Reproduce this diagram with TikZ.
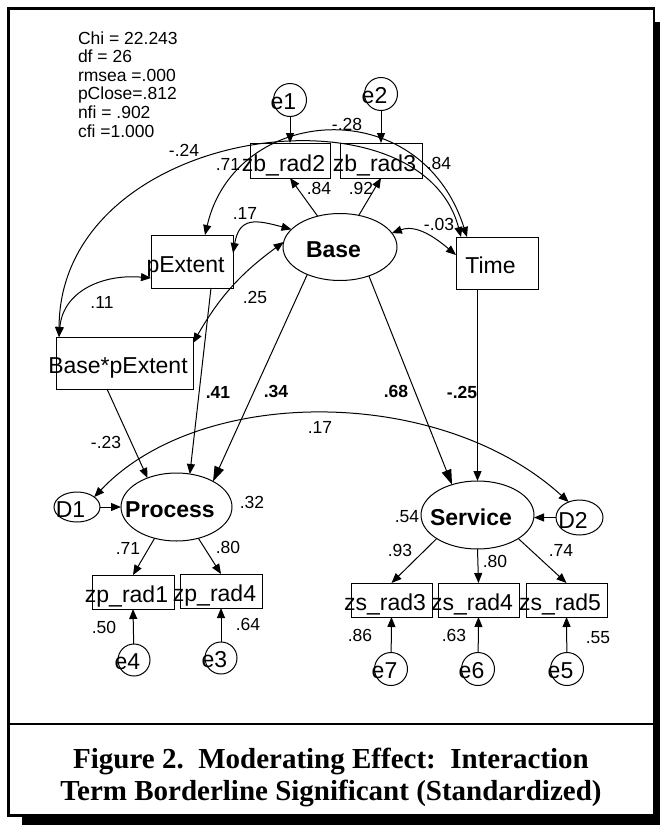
\documentclass[tikz,border=0pt]{standalone}
\usepackage{fontspec}
\setmainfont{Liberation Sans}
\newfontfamily\capfont{Liberation Serif}
\usetikzlibrary{arrows.meta,shapes.geometric}
\newcommand\tx[2][10.75]{\raisebox{-#1pt}[0pt][0pt]{\makebox[0pt]{#2\hspace{13pt}}}}
\tikzset{
  every node/.style={inner sep=0pt, outer sep=0pt},
  obs/.style={draw, rectangle, line width=1pt, font=\fontsize{23}{23}\selectfont},
  lat/.style={draw, ellipse, line width=1pt, font=\fontsize{23}{23}\selectfont\bfseries},
  dis/.style={draw, ellipse, line width=1pt, font=\fontsize{23}{23}\selectfont},
  err/.style={draw, circle, line width=1pt, minimum size=33pt, font=\fontsize{23}{23}\selectfont},
  lab/.style={font=\fontsize{17.5}{18}\selectfont, text height=12.5pt, text depth=0pt},
  blab/.style={font=\fontsize{17.5}{18}\selectfont\bfseries, text height=12.5pt, text depth=0pt},
  stat/.style={anchor=base west, font=\fontsize{17.5}{18}\selectfont},
  capt/.style={anchor=base, font=\capfont\bfseries\fontsize{29}{29}\selectfont},
  reg/.style={-{Triangle[length=10pt,width=8pt]}, line width=1pt},
  big/.style={-{Triangle[length=15pt,width=10pt]}, line width=1pt},
  cov/.style={{Triangle[length=10pt,width=8pt]}-{Triangle[length=10pt,width=8pt]}, line width=1pt},
}
\begin{document}
\begin{tikzpicture}[x=1pt,y=-1pt]
\fill[white] (0,0) rectangle (660,825);
\useasboundingbox (0,0) rectangle (660,825);
% frame with shadow
\fill[black] (22,22) rectangle (660,825);
\draw[line width=2.5pt, fill=white] (8.5,8.5) rectangle (654,815.5);
\draw[line width=2.5pt] (8.5,724) -- (654,724);
% fit statistics
\node[stat] (s1) at (78,44) {Chi = 22.243};
\node[stat] (s2) at (78,62.6) {df = 26};
\node[stat] (s3) at (78,81.2) {rmsea =.000};
\node[stat] (s4) at (78,99.8) {pClose=.812};
\node[stat] (s5) at (78,118.4) {nfi = .902};
\node[stat] (s6) at (78,137) {cfi =1.000};
% nodes
\node[err] (e1) at (290,100) {\tx[9]{e1}};
\node[err] (e2) at (381,94) {\tx[9]{e2}};
\node[obs, minimum width=80pt, minimum height=35pt] (zb2) at (290,160.5) {\tx{zb\_rad2}};
\node[obs, minimum width=82pt, minimum height=35pt] (zb3) at (381,160.5) {\tx{zb\_rad3}};
\node[lat, minimum width=114pt, minimum height=67pt] (base) at (340,247) {\tx[10.25]{Base}};
\node[obs, minimum width=82pt, minimum height=53pt] (pext) at (192,261.5) {\tx{pExtent}};
\node[obs, minimum width=82pt, minimum height=52pt] (time) at (497,263) {\tx{Time}};
\node[obs, minimum width=137pt, minimum height=52pt] (bp) at (124.5,363) {\tx{Base*pExtent}};
\node[lat, minimum width=111pt, minimum height=68pt] (proc) at (176.5,507) {\tx[10.25]{Process}};
\node[lat, minimum width=113pt, minimum height=68pt] (serv) at (477.5,515) {\tx[10.25]{Service}};
\node[dis, minimum width=46pt, minimum height=30pt] (d1) at (77,507) {\tx{D1}};
\node[dis, minimum width=47pt, minimum height=35pt] (d2) at (579.5,517.5) {\tx{D2}};
\node[obs, minimum width=82pt, minimum height=34pt] (zp1) at (133,592) {\tx{zp\_rad1}};
\node[obs, minimum width=82pt, minimum height=34pt] (zp4) at (221,591) {\tx{zp\_rad4}};
\node[err, minimum size=32pt] (e4) at (134,660) {\tx[9.5]{e4}};
\node[err, minimum size=32pt] (e3) at (221,658) {\tx[9.5]{e3}};
\node[obs, minimum width=81pt, minimum height=34pt] (zs3) at (391.5,600) {\tx{zs\_rad3}};
\node[obs, minimum width=81pt, minimum height=34pt] (zs4) at (478.5,600) {\tx{zs\_rad4}};
\node[obs, minimum width=81pt, minimum height=34pt] (zs5) at (566.5,600) {\tx{zs\_rad5}};
\node[err] (e7) at (391,669) {\tx[9.5]{e7}};
\node[err] (e6) at (478,669) {\tx[9.5]{e6}};
\node[err] (e5) at (567,669) {\tx[9.5]{e5}};
% regression paths
\draw[reg] (e1) -- (zb2.north);
\draw[reg] (e2) -- (zb3.north);
\draw[reg] (base) -- (zb2.south);
\draw[reg] (base) -- (zb3.south);
\draw[reg] ([xshift=19pt]pext.south) -- (proc.68);
\draw[big] (base.-140) -- (proc.35);
\draw[reg] ([xshift=-17.5pt]bp.south) -- (proc.135);
\draw[big] (base.-45) -- (serv.130);
\draw[reg] (time.south -| serv.north) -- (serv.north);
\draw[reg] (d1.east) -- (proc.west);
\draw[reg] (d2.west) -- (d2.west -| serv.east);
\draw[reg] (proc.-125) -- (zp1.north);
\draw[reg] (proc.-55) -- (zp4.north);
\draw[reg] (serv.-150) -- (zs3.north);
\draw[reg] (serv.south) -- (zs4.north);
\draw[reg] (serv.-30) -- (zs5.north);
\draw[reg] (e4) -- (zp1.south);
\draw[reg] (e3) -- (zp4.south);
\draw[reg] (e7) -- (zs3.south);
\draw[reg] (e6) -- (zs4.south);
\draw[reg] (e5) -- (zs5.south);
% covariances
\draw[cov] ([yshift=8.5pt]pext.east) to[out=80,in=165,looseness=1.5] (base.160);
\draw[cov] ([yshift=20pt]bp.east) to[bend left=12] (base.175);
\draw[cov] ([yshift=-16.5pt]pext.west) to[out=175,in=85,looseness=1.1] ([xshift=3pt]bp.north west);
\draw[cov] ([xshift=3pt]bp.north west) .. controls (60,125) and (420,80) .. ([xshift=-36pt]time.north);
\draw[cov] ([xshift=13pt]pext.north) .. controls (235,105) and (420,90) .. ([xshift=-30pt]time.north);
\draw[cov] (base.15) to[out=20,in=140] ([yshift=8pt]time.west);
\draw[cov] (d1.30) .. controls (200,385) and (440,385) .. (d2.125);
% labels
\node[lab] (l1) at (228,164) {.71};
\node[lab] (l2) at (439,163) {.84};
\node[lab] (l3) at (319,188) {.84};
\node[lab] (l4) at (361,188) {.92};
\node[lab] (l5) at (184,150) {-.24};
\node[lab] (l6) at (347,124) {-.28};
\node[lab] (l7) at (245,213) {.17};
\node[lab] (l8) at (255,297) {.25};
\node[lab] (l9) at (102,302) {.11};
\node[lab] (l10) at (439,224) {-.03};
\node[blab] (l11) at (218,392) {.41};
\node[blab] (l12) at (276,391) {.34};
\node[blab] (l13) at (396,391) {.68};
\node[blab] (l14) at (462,392) {-.25};
\node[lab] (l15) at (106,442) {-.23};
\node[lab] (l16) at (320,427) {.17};
\node[lab] (l17) at (252,502) {.32};
\node[lab] (l18) at (128,548) {.71};
\node[lab] (l19) at (228,547) {.80};
\node[lab] (l20) at (104,627) {.50};
\node[lab] (l21) at (248,624) {.64};
\node[lab] (l22) at (407,516) {.54};
\node[lab] (l23) at (400,550) {.93};
\node[lab] (l24) at (495,561) {.80};
\node[lab] (l25) at (561,550) {.74};
\node[lab] (l26) at (360,635) {.86};
\node[lab] (l27) at (454,635) {.63};
\node[lab] (l28) at (598,637) {.55};
% caption
\node[capt] (c1) at (331,768) {Figure 2.\ \ Moderating Effect:\ \ Interaction};
\node[capt] (c2) at (331,800) {Term Borderline Significant (Standardized)};
\end{tikzpicture}
\end{document}
